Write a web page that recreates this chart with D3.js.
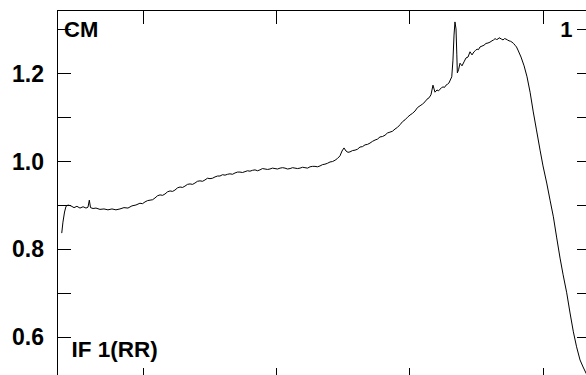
<!DOCTYPE html>
<html>
<head>
<meta charset="utf-8">
<script src="https://cdn.jsdelivr.net/npm/d3@7"></script>
<style>
  html, body { margin: 0; padding: 0; background: #fff; }
  svg { display: block; }
  text { font-family: "Liberation Sans", Arial, sans-serif; font-weight: bold; fill: #000; }
</style>
</head>
<body>
<svg id="chart" width="586" height="375"></svg>
<script>
// spectrum: wavelength (nm) vs ratio
const wavelength = [
  439.0, 439.9, 441.1, 442.2, 443.7, 445.9, 448.2, 450.4, 452.7, 455.0,
  457.2, 458.7, 459.7, 460.6, 462.5, 464.7, 467.7, 470.7, 473.7, 476.7,
  479.7, 482.7, 485.7, 488.7, 491.7, 494.7, 497.7, 499.6, 501.5, 503.4,
  505.3, 507.2, 509.0, 510.9, 512.8, 514.7, 516.5, 518.4, 520.3, 522.2,
  524.0, 525.9, 527.8, 529.7, 531.5, 533.4, 535.3, 537.2, 539.0, 540.9,
  542.8, 544.7, 546.5, 548.4, 550.3, 552.2, 554.1, 556.0, 557.8, 559.7,
  561.6, 563.5, 565.3, 567.2, 569.1, 571.0, 572.8, 574.7, 576.6, 578.5,
  580.3, 582.2, 584.1, 586.0, 587.8, 589.7, 591.6, 593.5, 595.3, 597.2,
  599.1, 601.0, 602.9, 604.8, 606.6, 608.5, 610.4, 612.3, 614.1, 616.0,
  617.9, 619.8, 621.6, 623.5, 625.4, 627.3, 629.1, 631.0, 632.9, 634.8,
  636.6, 638.5, 640.4, 642.3, 644.2, 646.0, 647.9, 649.4, 650.9, 652.4,
  653.9, 655.4, 657.3, 659.2, 661.0, 662.9, 664.8, 666.7, 668.5, 670.4,
  672.3, 674.2, 676.0, 677.9, 679.8, 681.7, 683.5, 685.4, 687.3, 689.2,
  691.1, 693.0, 694.9, 696.7, 698.6, 700.5, 702.4, 704.2, 706.1, 708.0,
  709.9, 711.7, 713.2, 714.7, 716.2, 717.7, 719.2, 720.7, 721.9, 723.0,
  724.1, 725.2, 726.4, 727.5, 728.6, 729.7, 731.8, 732.7, 733.5, 734.2,
  735.0, 735.6, 736.0, 736.9, 738.0, 739.5, 741.0, 742.5, 744.0, 745.5,
  747.0, 748.5, 749.6, 750.8, 751.9, 753.0, 754.5, 756.0, 757.5, 759.0,
  760.5, 762.0, 763.2, 764.3, 765.4, 766.5, 767.3, 768.0, 769.1, 770.3,
  771.4, 772.5, 773.6, 774.8, 775.9, 777.0, 778.2, 779.3, 780.4, 781.5,
  783.8, 786.1, 788.3, 790.6, 793.0, 795.4, 798.1, 800.3, 803.1, 805.6,
  808.1, 810.5, 813.1, 815.4, 818.1, 820.6, 823.1, 825.5, 828.1, 830.4,
  832.6, 835.6
];
const ratio = [
  0.836, 0.861, 0.884, 0.897, 0.900, 0.898, 0.894, 0.897, 0.893, 0.896,
  0.893, 0.895, 0.911, 0.894, 0.892, 0.893, 0.890, 0.891, 0.889, 0.891,
  0.889, 0.891, 0.894, 0.893, 0.898, 0.900, 0.904, 0.903, 0.907, 0.910,
  0.911, 0.912, 0.916, 0.921, 0.923, 0.922, 0.925, 0.930, 0.932, 0.931,
  0.934, 0.939, 0.941, 0.940, 0.943, 0.947, 0.948, 0.947, 0.950, 0.954,
  0.955, 0.954, 0.957, 0.961, 0.960, 0.961, 0.964, 0.966, 0.966, 0.969,
  0.968, 0.970, 0.971, 0.970, 0.973, 0.975, 0.975, 0.974, 0.976, 0.978,
  0.977, 0.979, 0.980, 0.978, 0.980, 0.983, 0.982, 0.981, 0.982, 0.984,
  0.983, 0.982, 0.984, 0.985, 0.984, 0.982, 0.983, 0.985, 0.984, 0.983,
  0.984, 0.986, 0.985, 0.984, 0.987, 0.988, 0.988, 0.987, 0.989, 0.992,
  0.993, 0.995, 0.998, 0.999, 1.002, 1.006, 1.012, 1.023, 1.030, 1.023,
  1.020, 1.021, 1.024, 1.025, 1.027, 1.032, 1.033, 1.037, 1.038, 1.041,
  1.045, 1.048, 1.050, 1.055, 1.056, 1.059, 1.064, 1.066, 1.068, 1.073,
  1.077, 1.083, 1.090, 1.094, 1.100, 1.105, 1.109, 1.114, 1.122, 1.126,
  1.130, 1.135, 1.141, 1.144, 1.151, 1.173, 1.157, 1.162, 1.160, 1.164,
  1.167, 1.169, 1.168, 1.173, 1.175, 1.178, 1.192, 1.230, 1.287, 1.317,
  1.301, 1.242, 1.201, 1.208, 1.223, 1.217, 1.226, 1.235, 1.237, 1.249,
  1.242, 1.249, 1.252, 1.255, 1.254, 1.260, 1.262, 1.264, 1.268, 1.269,
  1.271, 1.274, 1.276, 1.279, 1.277, 1.278, 1.281, 1.280, 1.278, 1.276,
  1.279, 1.278, 1.276, 1.274, 1.273, 1.271, 1.268, 1.264, 1.260, 1.253,
  1.237, 1.217, 1.192, 1.157, 1.112, 1.071, 1.025, 0.989, 0.950, 0.911,
  0.873, 0.827, 0.779, 0.741, 0.700, 0.654, 0.611, 0.577, 0.547, 0.531,
  0.517, 0.501
];

const xTicks = [500, 600, 700, 800];
const yTicks = [0.6, 0.7, 0.8, 0.9, 1.0, 1.1, 1.2, 1.3];
const yLabels = [0.6, 0.8, 1.0, 1.2];
const panelLabels = { topLeft: 'CM', topRight: '1', bottomLeft: 'IF 1(RR)' };

const svg = d3.select('#chart');
const frame = { left: 57.5, top: 10.5, right: 589.5, bottom: 380.5 };
const tickLen = 13;

const x = d3.scaleLinear().domain([500, 800]).range([143, 542.6]);
const y = d3.scaleLinear().domain([0.6, 1.3]).range([336.7, 29.4]);

svg.append('defs').append('clipPath').attr('id', 'plot-clip')
  .append('rect')
  .attr('x', frame.left).attr('y', frame.top)
  .attr('width', frame.right - frame.left).attr('height', frame.bottom - frame.top);

// frame
svg.append('rect')
  .attr('x', frame.left).attr('y', frame.top)
  .attr('width', frame.right - frame.left).attr('height', frame.bottom - frame.top)
  .attr('fill', 'none').attr('stroke', '#000').attr('stroke-width', 1);

// ticks, all pointing inwards
const ticks = svg.append('g').attr('stroke', '#000').attr('stroke-width', 1)
  .attr('shape-rendering', 'crispEdges');

ticks.selectAll('.yl').data(yTicks).enter().append('line')
  .attr('x1', frame.left).attr('x2', frame.left + tickLen)
  .attr('y1', d => Math.round(y(d)) + 0.5).attr('y2', d => Math.round(y(d)) + 0.5);
ticks.selectAll('.yr').data(yTicks).enter().append('line')
  .attr('x1', frame.right).attr('x2', frame.right - tickLen)
  .attr('y1', d => Math.round(y(d)) + 0.5).attr('y2', d => Math.round(y(d)) + 0.5);
ticks.selectAll('.xt').data(xTicks).enter().append('line')
  .attr('x1', d => Math.round(x(d)) + 0.5).attr('x2', d => Math.round(x(d)) + 0.5)
  .attr('y1', frame.top).attr('y2', frame.top + tickLen);
ticks.selectAll('.xb').data(xTicks).enter().append('line')
  .attr('x1', d => Math.round(x(d)) + 0.5).attr('x2', d => Math.round(x(d)) + 0.5)
  .attr('y1', frame.bottom).attr('y2', frame.bottom - tickLen);

// y tick labels
svg.append('g').selectAll('text').data(yLabels).enter().append('text')
  .attr('x', 44)
  .attr('y', d => y(d) + 8.5)
  .attr('text-anchor', 'end')
  .style('font-size', '23px')
  .text(d => d.toFixed(1));

// curve
const line = d3.line()
  .x((d, i) => x(wavelength[i]))
  .y(d => y(d));

svg.append('path')
  .datum(ratio)
  .attr('clip-path', 'url(#plot-clip)')
  .attr('d', line)
  .attr('fill', 'none')
  .attr('stroke', '#000')
  .attr('stroke-width', 1)
  .attr('stroke-linejoin', 'round');

// panel labels
svg.append('text').attr('x', 64).attr('y', 36.5)
  .style('font-size', '22px').text(panelLabels.topLeft);
svg.append('text').attr('x', 572.5).attr('y', 36.5).attr('text-anchor', 'end')
  .style('font-size', '22px').text(panelLabels.topRight);
svg.append('text').attr('x', 71.5).attr('y', 357)
  .style('font-size', '22.5px').text(panelLabels.bottomLeft);
</script>
</body>
</html>
